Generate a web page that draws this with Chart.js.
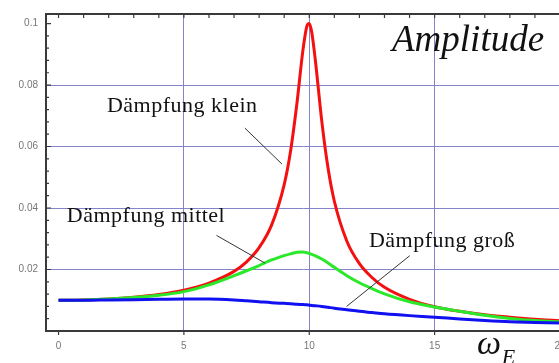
<!DOCTYPE html>
<html>
<head>
<meta charset="utf-8">
<script src="https://cdn.jsdelivr.net/npm/chart.js@4"></script>
<style>
  body { margin: 0; overflow: hidden; background: #fff; }
  #wrap { width: 575px; height: 363px; }
</style>
</head>
<body>
<div id="wrap"><canvas id="chart"></canvas></div>
<script>
// Erregerfrequenz (x) und Amplituden der drei Kurven
const omega = [0, 1, 2, 3, 4, 5, 6, 7, 7.5, 8, 8.5, 9, 9.25, 9.5, 9.75, 9.9, 10, 10.1, 10.25, 10.5, 10.75, 11, 11.5, 12, 12.5, 13, 14, 15, 16, 17, 18, 19, 20];
const klein = [0.0100, 0.0101, 0.0104, 0.0110, 0.0119, 0.0133, 0.0156, 0.0194, 0.0225, 0.0271, 0.0345, 0.0476, 0.0583, 0.0735, 0.0915, 0.0990, 0.1000, 0.0971, 0.0875, 0.0682, 0.0529, 0.0422, 0.0292, 0.0219, 0.0174, 0.0142, 0.0103, 0.0079, 0.0064, 0.0053, 0.0045, 0.0038, 0.0033];
const mittel = [0.0100, 0.0101, 0.0104, 0.0109, 0.0116, 0.0128, 0.0150, 0.0180, 0.0196, 0.0213, 0.0231, 0.0245, 0.0251, 0.0256, 0.0257, 0.0255, 0.0252, 0.0249, 0.0244, 0.0234, 0.0221, 0.0207, 0.0180, 0.0157, 0.0138, 0.0121, 0.0095, 0.0078, 0.0064, 0.0051, 0.0041, 0.0034, 0.0030];
const gross = [0.0100, 0.0100, 0.0101, 0.0102, 0.0103, 0.0104, 0.0104, 0.0101, 0.0098, 0.0095, 0.0092, 0.0090, 0.0089, 0.0087, 0.0086, 0.0085, 0.0084, 0.0083, 0.0082, 0.0080, 0.0077, 0.0074, 0.0069, 0.0064, 0.0060, 0.0056, 0.0050, 0.0045, 0.0039, 0.0034, 0.0030, 0.0028, 0.0026];

const xTicks = [0, 5, 10, 15, 20];
const yTicks = [0.02, 0.04, 0.06, 0.08, 0.1];

// Beschriftungen (in Datenkoordinaten)
const labels = [
  { text: 'Dämpfung klein', x: 1.93, y: 0.0713 },
  { text: 'Dämpfung mittel', x: 0.33, y: 0.0353 },
  { text: 'Dämpfung groß', x: 12.38, y: 0.0274 }
];
const pointers = [
  [7.43, 0.0660, 8.91, 0.0543],
  [6.30, 0.0311, 8.23, 0.0221],
  [14.01, 0.0245, 11.49, 0.0080]
];

const toPoints = (ys) => omega.map((x, i) => ({ x: x, y: ys[i] }));

const gridBlue = '#8484c8';
const axisDark = '#3a3a3a';

// Rahmen, Teilstriche und Texte
const decor = {
  id: 'decor',
  afterDraw(chart) {
    const ctx = chart.ctx;
    const xs = chart.scales.x, ys = chart.scales.y;
    const a = chart.chartArea;
    ctx.save();
    ctx.strokeStyle = axisDark;
    ctx.lineWidth = 2;
    ctx.beginPath();
    ctx.moveTo(a.left - 1, a.top);
    ctx.lineTo(a.right, a.top);
    ctx.stroke();

    ctx.lineWidth = 1.2;
    ctx.beginPath();
    for (let v = 0; v <= 20; v++) {
      const px = xs.getPixelForValue(v);
      ctx.moveTo(px, a.top);
      ctx.lineTo(px, a.top + 4);
    }
    for (const v of xTicks) {
      const px = xs.getPixelForValue(v);
      ctx.moveTo(px, a.bottom);
      ctx.lineTo(px, a.bottom + 4);
    }
    for (let i = 1; i <= 25; i++) {
      const py = ys.getPixelForValue(i * 0.004);
      const len = i % 5 === 0 ? 5 : 3;
      ctx.moveTo(a.left, py);
      ctx.lineTo(a.left + len, py);
    }
    ctx.stroke();

    // Hinweislinien
    ctx.strokeStyle = '#333';
    ctx.lineWidth = 1;
    ctx.beginPath();
    for (const p of pointers) {
      ctx.moveTo(xs.getPixelForValue(p[0]), ys.getPixelForValue(p[1]));
      ctx.lineTo(xs.getPixelForValue(p[2]), ys.getPixelForValue(p[3]));
    }
    ctx.stroke();

    ctx.fillStyle = '#111';
    ctx.textBaseline = 'alphabetic';
    ctx.textAlign = 'left';
    ctx.font = '22px "Liberation Serif"';
    ctx.letterSpacing = '0.5px';
    for (const l of labels) {
      ctx.fillText(l.text, xs.getPixelForValue(l.x), ys.getPixelForValue(l.y));
    }
    ctx.letterSpacing = '0px';
    ctx.font = 'italic 37px "Liberation Serif"';
    ctx.fillText('Amplitude', xs.getPixelForValue(13.30), ys.getPixelForValue(0.0910));
    ctx.font = 'italic 34px "Liberation Serif"';
    ctx.fillText('ω', xs.getPixelForValue(16.69), ys.getPixelForValue(-0.0075));
    ctx.font = 'italic 22px "Liberation Serif"';
    ctx.fillText('E', xs.getPixelForValue(17.68), ys.getPixelForValue(-0.0107));
    ctx.restore();
  }
};

new Chart(document.getElementById('chart'), {
  type: 'line',
  data: {
    datasets: [
      { label: 'Dämpfung groß', data: toPoints(gross), borderColor: '#1010f0', borderWidth: 3 },
      { label: 'Dämpfung mittel', data: toPoints(mittel), borderColor: '#2ae82a', borderWidth: 3 },
      { label: 'Dämpfung klein', data: toPoints(klein), borderColor: '#f41010', borderWidth: 3 }
    ]
  },
  options: {
    responsive: true,
    maintainAspectRatio: false,
    animation: false,
    layout: { padding: { top: 7, right: 15, left: 0, bottom: 0 } },
    elements: {
      point: { radius: 0 },
      line: { cubicInterpolationMode: 'monotone', fill: false }
    },
    plugins: { legend: { display: false }, tooltip: { enabled: false } },
    scales: {
      x: {
        type: 'linear',
        min: -0.5,
        max: 20,
        afterFit: (s) => { s.height = 32; },
        afterBuildTicks: (s) => { s.ticks = xTicks.map(v => ({ value: v })); },
        ticks: { font: { family: 'Liberation Sans', size: 10 }, color: '#777', padding: 9, maxRotation: 0 },
        grid: {
          color: (c) => (c.tick && c.tick.value > 0 && c.tick.value < 20 ? gridBlue : 'rgba(0,0,0,0)'),
          lineWidth: 1,
          drawTicks: false
        },
        border: { color: axisDark, width: 2 }
      },
      y: {
        min: 0,
        max: 0.1031,
        afterFit: (s) => { s.width = 46; },
        afterBuildTicks: (s) => { s.ticks = yTicks.map(v => ({ value: v })); },
        ticks: {
          font: { family: 'Liberation Sans', size: 10 },
          color: '#777',
          padding: 8,
          callback: (v) => String(+v.toFixed(2))
        },
        grid: {
          color: (c) => (c.tick && c.tick.value < 0.09 ? gridBlue : 'rgba(0,0,0,0)'),
          lineWidth: 1,
          drawTicks: false
        },
        border: { color: axisDark, width: 2 }
      }
    }
  },
  plugins: [decor]
});
</script>
</body>
</html>
